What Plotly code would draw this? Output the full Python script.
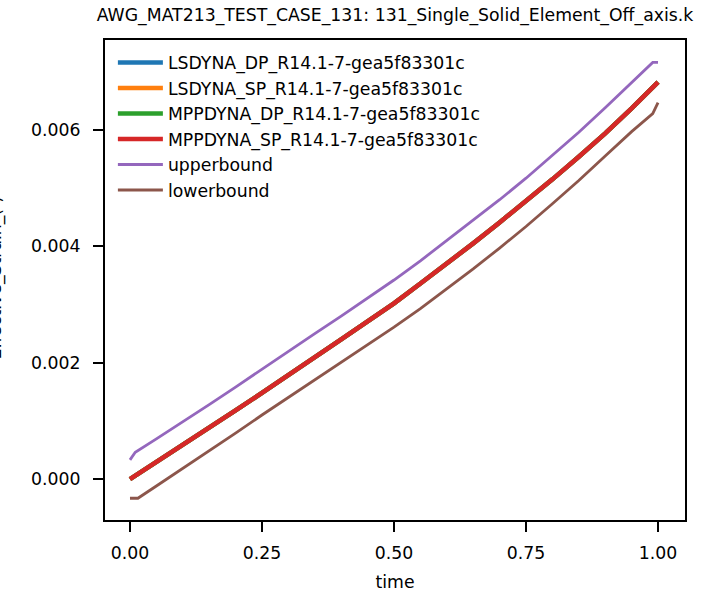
import plotly.graph_objects as go

title_text = "AWG_MAT213_TEST_CASE_131: 131_Single_Solid_Element_Off_axis.k"
x_label = "time"
y_label = "Effective_Strain_(-)"

time_main = [0.0, 0.05, 0.1, 0.15, 0.2, 0.25, 0.3, 0.35, 0.4, 0.45, 0.5,
             0.55, 0.6, 0.65, 0.7, 0.75, 0.8, 0.85, 0.9, 0.95, 1.0]
val_main = [0.0, 0.00029, 0.00058, 0.00088, 0.00118, 0.00148, 0.00178, 0.00209,
            0.0024, 0.00271, 0.00302, 0.00336, 0.0037, 0.00405, 0.00441, 0.00477,
            0.00515, 0.00554, 0.00594, 0.00637, 0.00682]

time_upper = [0.0, 0.01, 0.05, 0.1, 0.15, 0.2, 0.25, 0.3, 0.35, 0.4, 0.45, 0.5,
              0.55, 0.6, 0.65, 0.7, 0.75, 0.8, 0.85, 0.9, 0.95, 0.99, 1.0]
val_upper = [0.00033, 0.00046, 0.00069, 0.00098, 0.00128, 0.00158, 0.00189, 0.00219,
             0.0025, 0.0028, 0.00311, 0.00342, 0.00375, 0.0041, 0.00445, 0.0048,
             0.00517, 0.00556, 0.00596, 0.00638, 0.00681, 0.00716, 0.00716]

time_lower = [0.0, 0.015, 0.05, 0.1, 0.15, 0.2, 0.25, 0.3, 0.35, 0.4, 0.45, 0.5,
              0.55, 0.6, 0.65, 0.7, 0.75, 0.8, 0.85, 0.9, 0.95, 0.99, 1.0]
val_lower = [-0.00033, -0.00033, -0.00012, 0.00018, 0.00048, 0.00079, 0.0011, 0.0014,
             0.0017, 0.002, 0.0023, 0.00261, 0.00293, 0.00327, 0.00361, 0.00397,
             0.00434, 0.00473, 0.00513, 0.00555, 0.00597, 0.00628, 0.00647]

series_names = ["LSDYNA_DP_R14.1-7-gea5f83301c", "LSDYNA_SP_R14.1-7-gea5f83301c",
                "MPPDYNA_DP_R14.1-7-gea5f83301c", "MPPDYNA_SP_R14.1-7-gea5f83301c"]
series_colors = ["#1f77b4", "#ff7f0e", "#2ca02c", "#d62728"]

x_ticks = [0.0, 0.25, 0.5, 0.75, 1.0]
x_tick_text = ["0.00", "0.25", "0.50", "0.75", "1.00"]
y_ticks = [0.0, 0.002, 0.004, 0.006]
y_tick_text = ["0.000", "0.002", "0.004", "0.006"]

FONT = "DejaVu Sans"
FS = 17.3

fig = go.Figure()
for i, (name, col) in enumerate(zip(series_names, series_colors)):
    fig.add_trace(go.Scatter(x=time_main, y=val_main, mode="lines", name=name,
                             line=dict(color=col, width=4.5), legendgroup=f"g{i}"))
fig.add_trace(go.Scatter(x=time_upper, y=val_upper, mode="lines", name="upperbound",
                         line=dict(color="#9467bd", width=2.8), legendgroup="g4"))
fig.add_trace(go.Scatter(x=time_lower, y=val_lower, mode="lines", name="lowerbound",
                         line=dict(color="#8c564b", width=2.8), legendgroup="g5"))

axis_common = dict(showgrid=False, zeroline=False, showline=True, linecolor="black",
                   linewidth=2.2, mirror=True, ticks="outside", ticklen=10, tickwidth=2.2,
                   tickcolor="black", automargin=False,
                   tickfont=dict(family=FONT, size=FS, color="black"))

fig.update_layout(
    width=701, height=599,
    margin=dict(l=105, r=16, t=40, b=79),
    paper_bgcolor="white", plot_bgcolor="white",
    font=dict(family=FONT, color="black"),
    title=dict(text=title_text, x=0.5, xanchor="center", y=0.975, yanchor="middle",
               xref="paper", font=dict(family=FONT, size=FS, color="black")),
    xaxis=dict(range=[-0.0473, 1.0511], tickvals=x_ticks, ticktext=x_tick_text,
               ticklabelstandoff=6,
               title=dict(text=x_label, font=dict(family=FONT, size=FS), standoff=14),
               **axis_common),
    yaxis=dict(range=[-0.000704, 0.007545], tickvals=y_ticks, ticktext=y_tick_text,
               ticklabelstandoff=9,
               **axis_common),
    legend=dict(x=0.0136, y=0.99, xanchor="left", yanchor="top", bgcolor="rgba(0,0,0,0)",
                font=dict(family=FONT, size=FS, color="black"), tracegroupgap=0,
                itemwidth=45),
    showlegend=True,
)
fig.add_annotation(text=y_label, xref="paper", yref="paper", x=(7 - 105) / 580,
                   y=(599 - 79 - 278) / 480, xanchor="right", yanchor="middle",
                   textangle=-90, showarrow=False,
                   font=dict(family=FONT, size=FS, color="black"))

fig.write_html("out.html")
